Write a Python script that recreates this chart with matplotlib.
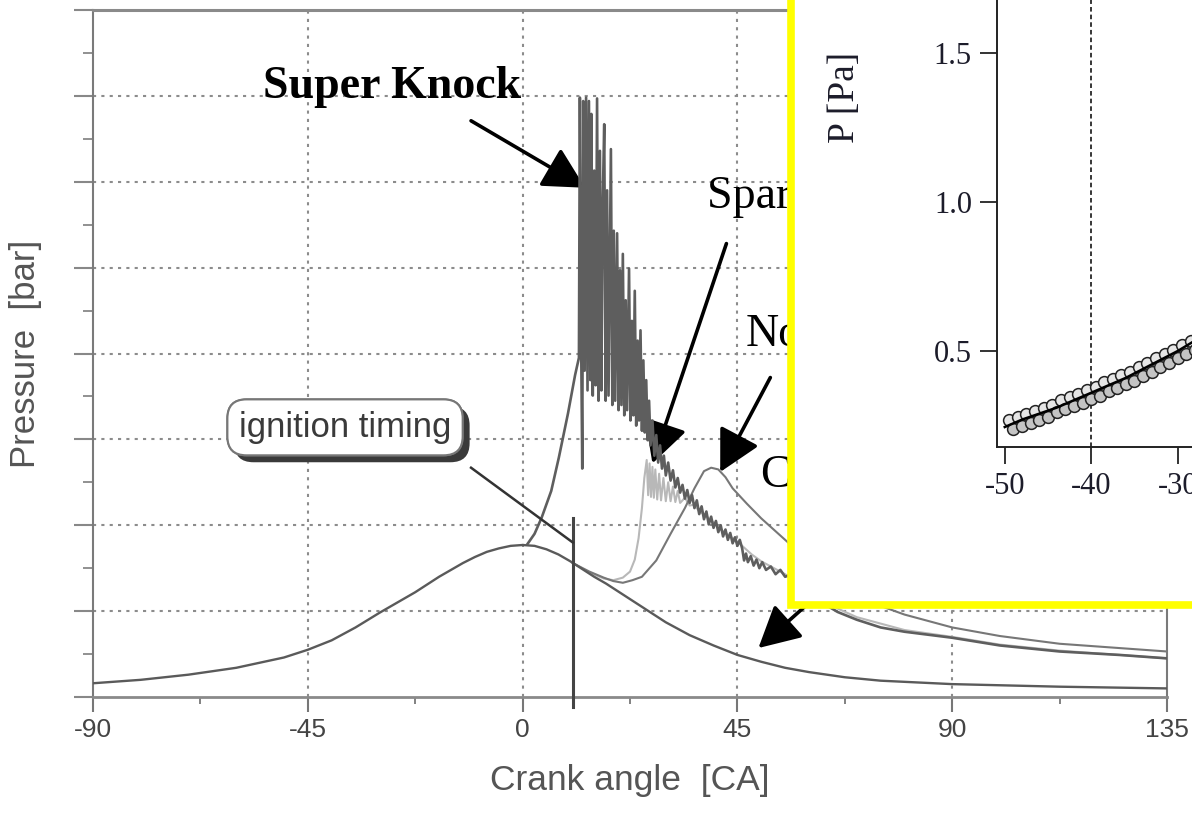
import matplotlib
matplotlib.use("Agg")
import matplotlib.pyplot as plt
import matplotlib.patches as mpatches
import matplotlib.patheffects as pe

# ---- data ----
# main chart: crank angle [CA] vs pressure (arbitrary bar scale, 8 divisions)
motoring_ca = [-90, -80, -70, -60, -55, -50, -45, -40, -35, -30, -27.5, -25, -22.5, -20, -17.5,
               -15, -12.5, -10, -7.5, -5, -2.5, 0, 2.5, 5, 7.5, 10, 12.5, 15, 17.5, 20, 22.5,
               25, 27.5, 30, 35, 40, 45, 50, 55, 60, 67.5, 75, 82.5, 90, 112.5, 135]
motoring_p = [1.6, 2.0, 2.6, 3.4, 4.0, 4.6, 5.5, 6.6, 8.1, 9.8, 10.6, 11.4, 12.2, 13.1, 14.0,
              14.8, 15.6, 16.3, 16.9, 17.3, 17.6, 17.7, 17.6, 17.2, 16.6, 15.8, 14.9, 14.0, 13.2,
              12.3, 11.4, 10.5, 9.6, 8.7, 7.2, 6.0, 4.9, 4.1, 3.4, 2.9, 2.3, 1.9, 1.7, 1.5, 1.2, 1.0]

superknock_ca = [1.0, 2.5, 4.0, 6.0, 7.6, 9.5, 11.0, 11.8, 12.0,
                 12.3, 12.5, 12.7, 13.0, 13.3, 13.6, 13.9, 14.2, 14.4, 14.7, 15.0, 15.3, 15.6, 15.9,
                 16.2, 16.5, 16.8, 17.1, 17.4, 17.7, 18.0, 18.5, 18.8, 19.1, 19.4, 19.8, 20.1, 20.4,
                 20.7, 21.0, 21.3, 21.6, 21.9, 22.3, 22.6, 22.9, 23.2, 23.5, 23.8, 24.1, 24.4, 24.7,
                 25.0, 25.3, 25.6, 25.9, 26.2, 26.5, 26.8, 27.2, 27.6, 28.0, 28.4, 28.8, 29.2, 29.6,
                 30.0, 30.5, 31.0, 31.5, 32.0, 32.5, 33.0, 33.5, 34.0, 34.5, 35.0, 35.5, 36.0, 36.5,
                 37.0, 37.5, 38.0, 38.5, 39.0, 39.5, 40.0, 40.5, 41.0, 41.5, 42.0, 42.5, 43.0, 43.5,
                 44.0, 44.5, 45.0, 45.5, 46.0, 46.4, 46.8, 47.2, 47.8, 48.4, 49.0, 49.6, 50.2, 51.0,
                 52.0, 53.0, 54.0, 55.0, 56.0, 58.0, 60.0, 63.0, 66.0, 70.0, 75.0, 80.0, 90.0, 100.0,
                 112.5, 125.0, 135.0]
superknock_p = [17.8, 19.0, 20.9, 24.0, 27.9, 33.0, 37.5, 39.5, 69.8,
                39.2, 26.6, 69.4, 38.0, 69.8, 35.7, 69.4, 36.9, 67.9, 35.1, 61.3, 36.3, 69.7, 34.5,
                63.6, 35.7, 57.8, 66.7, 34.5, 59.0, 35.1, 63.8, 34.0, 54.3, 34.5, 54.0, 33.4, 49.7,
                34.0, 51.6, 32.8, 46.2, 33.4, 49.9, 32.2, 43.8, 32.8, 47.3, 31.6, 41.5, 32.2, 42.7,
                31.0, 39.2, 30.8, 36.9, 29.9, 34.5, 29.3, 32.2, 28.1, 30.5, 27.3, 29.3, 26.6, 28.1,
                25.8, 27.3, 25.2, 26.4, 24.4, 25.5, 23.8, 24.7, 23.1, 24.1, 22.6, 23.5, 22.0, 22.9,
                21.3, 22.2, 20.7, 21.6, 20.1, 21.0, 19.7, 20.5, 19.2, 20.0, 18.7, 19.5, 18.3, 19.1,
                17.9, 18.6, 17.6, 18.3, 17.3, 15.9, 16.7, 15.7, 16.4, 15.3, 16.0, 15.0, 15.7, 14.8,
                15.2, 14.3, 14.8, 14.0, 14.2, 13.0, 12.2, 10.9, 9.9, 9.0, 8.1, 7.6, 6.9, 6.0,
                5.3, 4.9, 4.5]

sparkknock_ca = [10.5, 14.0, 17.0, 19.0, 21.0, 22.5, 23.5, 24.3, 25.0, 25.5,
                 26.0, 26.3, 26.6, 26.9, 27.2, 27.5, 27.8, 28.2, 28.6, 29.0, 29.5, 30.0, 30.5,
                 31.0, 31.5, 32.0, 32.5, 33.0, 34.0, 35.0, 36.0, 37.0, 38.0, 40.0, 42.0, 44.0,
                 46.0, 48.0, 50.0, 55.0, 60.0, 66.0, 70.0, 80.0, 90.0, 100.0, 112.5, 125.0, 135.0]
sparkknock_p = [15.6, 14.5, 13.8, 13.6, 13.9, 14.6, 16.0, 18.5, 22.0, 25.5,
                27.6, 23.5, 27.2, 23.3, 26.8, 23.2, 26.5, 23.0, 26.0, 22.9, 25.5, 22.8, 25.0,
                22.8, 24.5, 22.7, 24.0, 22.6, 23.2, 22.3, 22.4, 21.6, 21.3, 20.3, 19.3, 18.5,
                17.6, 16.6, 15.8, 14.3, 12.5, 10.3, 9.3, 7.8, 7.0, 6.1, 5.4, 4.9, 4.5]

normal_ca = [10.5, 14.0, 17.0, 19.0, 21.0, 23.0, 25.0, 28.0, 31.0, 34.0, 36.0, 38.0, 39.5,
             41.0, 42.5, 44.0, 47.0, 50.0, 55.0, 60.0, 65.0, 70.0, 75.0, 80.0, 90.0, 100.0,
             112.5, 125.0, 135.0]
normal_p = [15.6, 14.6, 13.9, 13.5, 13.3, 13.6, 14.0, 15.9, 19.0, 22.0, 24.3, 26.3, 26.7,
            26.5, 25.6, 24.3, 22.5, 20.8, 18.3, 15.8, 13.7, 12.0, 10.6, 9.6, 8.1, 7.1,
            6.2, 5.7, 5.3]

ignition_ca = 10.5

x_ticks = [-90, -45, 0, 45, 90, 135]
x_minor = [-67.5, -22.5, 22.5, 67.5, 112.5]

# inset: P [Pa] vs angle
inset_line_x = [-50, -48, -46, -44, -42, -40, -38, -36, -34, -32, -30, -28, -26]
inset_line_y = [0.245, 0.27, 0.29, 0.31, 0.335, 0.36, 0.385, 0.41, 0.44, 0.47, 0.50, 0.535, 0.57]
inset_up_x = [-49.5, -48.5, -47.5, -46.5, -45.5, -44.5, -43.5, -42.5, -41.5, -40.5, -39.5,
              -38.5, -37.5, -36.5, -35.5, -34.5, -33.5, -32.5, -31.5, -30.5, -29.5, -28.5]
inset_up_y = [0.27, 0.28, 0.29, 0.30, 0.31, 0.32, 0.335, 0.345, 0.355, 0.37, 0.38,
              0.395, 0.405, 0.42, 0.43, 0.445, 0.46, 0.475, 0.49, 0.505, 0.52, 0.535]
inset_lo_x = [-49, -48, -47, -46, -45, -44, -43, -42, -41, -40, -39,
              -38, -37, -36, -35, -34, -33, -32, -31, -30, -29, -28]
inset_lo_y = [0.24, 0.25, 0.26, 0.27, 0.28, 0.295, 0.305, 0.315, 0.325, 0.34, 0.35,
              0.365, 0.375, 0.39, 0.40, 0.415, 0.43, 0.445, 0.46, 0.475, 0.49, 0.505]
inset_xticks = [-50, -40, -30]
inset_yticks = [0.5, 1.0, 1.5]

W, H = 1192, 816
sans = ["Liberation Sans", "DejaVu Sans"]
serif = ["Liberation Serif", "DejaVu Serif"]

fig = plt.figure(figsize=(W / 100, H / 100), dpi=100)
fig.patch.set_facecolor("white")

# ---- main chart ----
ax = fig.add_axes([93 / W, (H - 697) / H, (1167 - 93) / W, 687 / H])
ax.set_xlim(-90, 135)
ax.set_ylim(0, 80)

grid_kw = dict(color="#8c8c8c", lw=1.5, ls=(0, (1.5, 2.5)), zorder=0)
for yv in range(10, 80, 10):
    ax.axhline(yv, **grid_kw)
for xv in x_ticks[1:-1]:
    ax.axvline(xv, **grid_kw)

ax.plot(sparkknock_ca, sparkknock_p, color="#b8b8b8", lw=1.5, zorder=2)
ax.plot(normal_ca, normal_p, color="#777777", lw=1.5, zorder=2)
ax.plot(motoring_ca, motoring_p, color="#5a5a5a", lw=1.7, zorder=3)
ax.plot(superknock_ca, superknock_p, color="#5e5e5e", lw=1.9, zorder=4)

# ignition timing marker
ax.plot([ignition_ca, ignition_ca], [20.9, -1.2], color="#444444", lw=2.2, clip_on=False, zorder=5)
ax.plot([-10.8, ignition_ca], [26.7, 18.0], color="#333333", lw=1.8, zorder=5)
t = ax.text(-37.2, 31.4, "ignition timing", family=sans, fontsize=25, color="#3a3a3a",
            ha="center", va="center", zorder=6,
            bbox=dict(boxstyle="round,pad=0.33,rounding_size=0.55", fc="white", ec="#777777", lw=1.5))
t.get_bbox_patch().set_path_effects([
    pe.withSimplePatchShadow(offset=(5, -5), shadow_rgbFace="#3a3a3a", alpha=1.0), pe.Normal()])

ax.spines["top"].set_color("#8a8a8a")
ax.spines["top"].set_linewidth(2.2)
ax.spines["bottom"].set_color("#8a8a8a")
ax.spines["bottom"].set_linewidth(2.0)
ax.spines["left"].set_color("#7a7a7a")
ax.spines["left"].set_linewidth(1.5)
ax.spines["right"].set_color("#7a7a7a")
ax.spines["right"].set_linewidth(1.5)

ax.set_xticks(x_ticks)
ax.set_xticklabels([str(v) for v in x_ticks], family=sans, fontsize=19, color="#444444")
ax.set_xticks(x_minor, minor=True)
ax.set_yticks(range(0, 81, 10))
ax.set_yticklabels([])
ax.set_yticks(range(5, 80, 10), minor=True)
ax.tick_params(axis="x", which="major", direction="out", length=11, width=1.5, color="#777777", pad=4)
ax.tick_params(axis="x", which="minor", direction="out", length=5, width=1.3, color="#777777")
ax.tick_params(axis="y", which="major", direction="out", length=14, width=1.5, color="#888888")
ax.tick_params(axis="y", which="minor", direction="out", length=7, width=1.3, color="#888888")

ax.set_xlabel("Crank angle  [CA]", family=sans, fontsize=25.5, color="#555555", labelpad=16)
ax.set_ylabel("Pressure  [bar]", family=sans, fontsize=25, color="#555555", labelpad=19)

arrow_kw = dict(arrowstyle="-|>,head_length=0.85,head_width=0.45", color="black", lw=2.6,
                mutation_scale=30, shrinkA=0, shrinkB=0)
ax.text(-54.4, 69.8, "Super Knock", family=serif, fontsize=33, fontweight="bold", va="baseline")
ax.annotate("", xy=(13.1, 59.3), xytext=(-10.8, 67.1), arrowprops=arrow_kw)
ax.text(38.7, 56.9, "Spark Knock", family=serif, fontsize=33, va="baseline")
ax.annotate("", xy=(27.2, 27.2), xytext=(42.7, 52.8), arrowprops=arrow_kw)
ax.text(46.7, 40.9, "Normal", family=serif, fontsize=33, va="baseline")
ax.annotate("", xy=(41.4, 26.2), xytext=(51.9, 37.2), arrowprops=arrow_kw)
ax.text(49.8, 24.4, "Compression", family=serif, fontsize=33, va="baseline")
ax.annotate("", xy=(49.4, 5.7), xytext=(67.7, 14.8), arrowprops=arrow_kw)

# ---- yellow framed inset ----
frame = mpatches.Rectangle((790.5 / W, 1 - 604.5 / H), 0.6, 0.9, transform=fig.transFigure,
                           facecolor="white", edgecolor="#ffff00", lw=5.5, zorder=1)
fig.add_artist(frame)

axi = fig.add_axes([997 / W, (H - 447) / H, 440 / W, 543 / H], zorder=2)
axi.set_facecolor("none")
axi.set_xlim(-50.9, 0)
axi.set_ylim(0.178, 2.0)
axi.axvline(-40, color="black", lw=1.1, ls=(0, (3, 2)))
axi.plot(inset_up_x, inset_up_y, "o", ms=8.5, mfc="#e6e6e6", mec="#222222", mew=1.1)
axi.plot(inset_lo_x, inset_lo_y, "o", ms=8.5, mfc="#c4c4c4", mec="#222222", mew=1.1)
axi.plot(inset_line_x, inset_line_y, color="black", lw=1.8)
for s in ["top", "right"]:
    axi.spines[s].set_visible(False)
for s in ["left", "bottom"]:
    axi.spines[s].set_color("#222222")
    axi.spines[s].set_linewidth(1.4)
axi.set_xticks(inset_xticks)
axi.set_xticklabels([str(v) for v in inset_xticks], family=serif, fontsize=22, color="#1c1c2a")
axi.set_yticks(inset_yticks)
axi.set_yticklabels(["%.1f" % v for v in inset_yticks], family=serif, fontsize=22, color="#1c1c2a")
axi.tick_params(direction="out", length=12, width=1.4, color="#333333", pad=6)
fig.text(845 / W, 1 - 97 / H, "P [Pa]", family=serif, fontsize=27, rotation=90,
         ha="center", va="center", color="#1c1c2a", zorder=3)

fig.savefig("out.png", dpi=100)
